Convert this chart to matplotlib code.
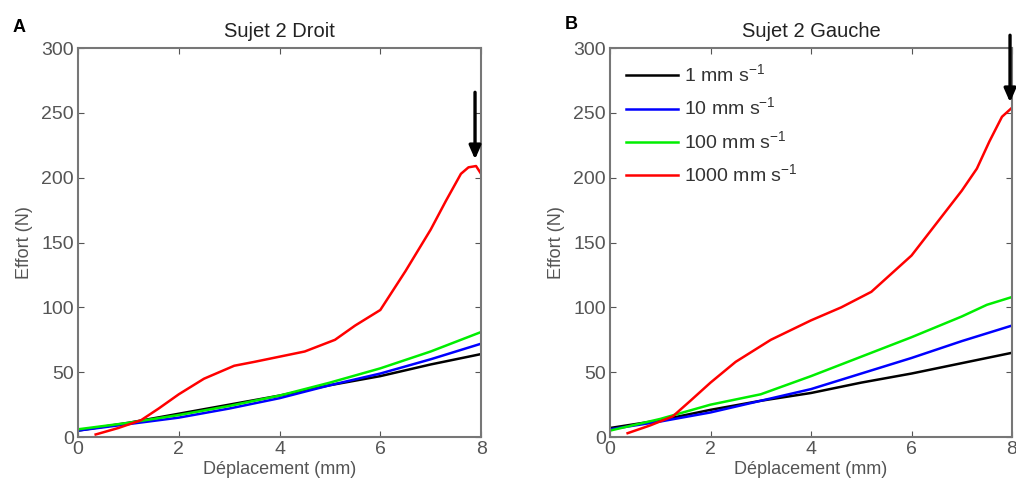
import matplotlib
matplotlib.use('Agg')
import matplotlib.pyplot as plt

plt.rcParams['font.family'] = ['Liberation Sans', 'DejaVu Sans']

# Sujet 2 Droit (A)
a_black_x = [0, 1, 2, 3, 4, 5, 6, 7, 8]
a_black_y = [5, 11, 18, 25, 32, 40, 47, 56, 64]
a_blue_x = [0, 1, 2, 3, 4, 5, 6, 7, 8]
a_blue_y = [5, 10, 15, 22, 30, 40, 49, 60, 72]
a_green_x = [0, 1, 2, 3, 4, 5, 6, 7, 8]
a_green_y = [6, 11, 17, 24, 32, 42, 53, 66, 81]
a_red_x = [0.35, 0.8, 1.25, 1.6, 2.0, 2.5, 3.1, 3.5, 4.0, 4.5, 5.1, 5.5,
           6.0, 6.5, 7.0, 7.3, 7.6, 7.75, 7.9, 8.0]
a_red_y = [2, 7, 13, 22, 33, 45, 55, 58, 62, 66, 75, 86,
           98, 128, 160, 182, 203, 208, 209, 203]

# Sujet 2 Gauche (B)
b_black_x = [0, 1, 2, 3, 4, 5, 6, 7, 8]
b_black_y = [7, 13, 21, 28, 34, 42, 49, 57, 65]
b_blue_x = [0, 1, 2, 3, 4, 5, 6, 7, 8]
b_blue_y = [6, 12, 19, 28, 37, 49, 61, 74, 86]
b_green_x = [0, 1, 2, 3, 4, 5, 6, 7, 7.5, 8]
b_green_y = [5, 14, 25, 33, 47, 62, 77, 93, 102, 108]
b_red_x = [0.35, 0.8, 1.25, 1.6, 2.0, 2.5, 3.2, 4.0, 4.6, 5.2, 5.6,
           6.0, 6.2, 6.6, 7.0, 7.3, 7.55, 7.8, 8.0]
b_red_y = [3, 9, 16, 28, 42, 58, 75, 90, 100, 112, 126,
           140, 150, 170, 190, 207, 228, 247, 254]

speeds = ['1 mm s$^{\\mathregular{-1}}$', '10 mm s$^{\\mathregular{-1}}$',
          '100 mm s$^{\\mathregular{-1}}$', '1000 mm s$^{\\mathregular{-1}}$']
colors = ['black', '#0000ff', '#00ee00', '#ff0000']
xticks = [0, 2, 4, 6, 8]
yticks = [0, 50, 100, 150, 200, 250, 300]

# arrows marking rupture: (x, y_start, y_end)
a_arrow = (7.88, 268, 212)
b_arrow = (7.96, 312, 256)


def draw_panel(ax, series, title, arrow):
    for (x, y), c, lab in zip(series, colors, speeds):
        ax.plot(x, y, color=c, lw=1.8, label=lab)
    ax.set_xlim(0, 8)
    ax.set_ylim(0, 300)
    ax.set_xticks(xticks)
    ax.set_yticks(yticks)
    ax.tick_params(direction='in', top=True, right=True, labelsize=14,
                   labelcolor='#555555', color='#555555', length=4, pad=3)
    for s in ax.spines.values():
        s.set_color('#777777')
        s.set_linewidth(1.5)
    ax.set_xlabel('Déplacement (mm)', fontsize=13, color='#555555', labelpad=2)
    ax.set_ylabel('Effort (N)', fontsize=13, color='#555555', labelpad=6)
    ax.set_title(title, fontsize=14.5, pad=8, color='#222222')
    ax.annotate('', xy=(arrow[0], arrow[2]), xytext=(arrow[0], arrow[1]),
                arrowprops=dict(arrowstyle='-|>,head_width=0.35,head_length=0.8',
                                color='black', lw=2.4),
                annotation_clip=False)


fig = plt.figure(figsize=(10.16, 4.9), dpi=100)
ax1 = fig.add_axes([0.0768, 0.108, 0.3967, 0.794])
ax2 = fig.add_axes([0.6004, 0.108, 0.3957, 0.794])

draw_panel(ax1, [(a_black_x, a_black_y), (a_blue_x, a_blue_y),
                 (a_green_x, a_green_y), (a_red_x, a_red_y)],
           'Sujet 2 Droit', a_arrow)
draw_panel(ax2, [(b_black_x, b_black_y), (b_blue_x, b_blue_y),
                 (b_green_x, b_green_y), (b_red_x, b_red_y)],
           'Sujet 2 Gauche', b_arrow)

leg = ax2.legend(loc='upper left', frameon=False, fontsize=14,
                 handlelength=2.7, labelspacing=0.55, borderaxespad=0.5,
                 handletextpad=0.3, borderpad=0.3)
for t in leg.get_texts():
    t.set_color('#333333')

fig.text(0.012, 0.935, 'A', fontsize=13, fontweight='bold')
fig.text(0.556, 0.94, 'B', fontsize=13, fontweight='bold')

fig.savefig('out.png', dpi=100)
